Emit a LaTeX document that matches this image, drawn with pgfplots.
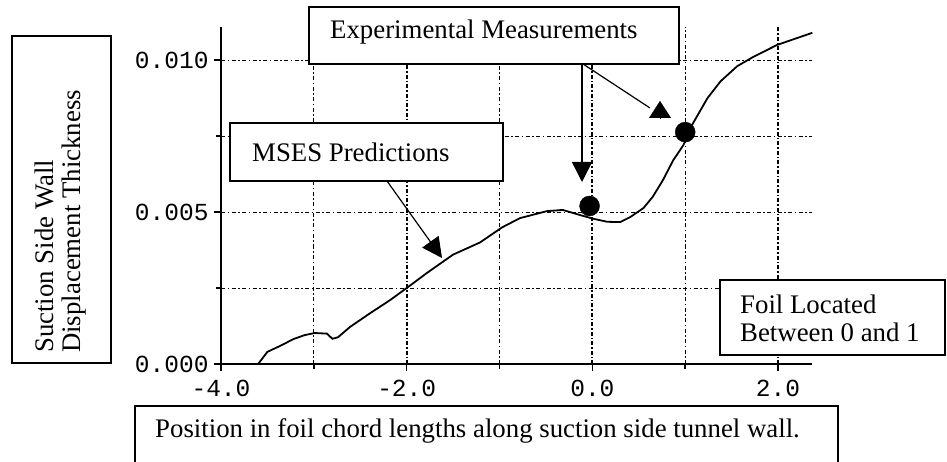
\documentclass[border=0pt]{standalone}
\usepackage{fontspec}
\setmainfont{Liberation Serif}
\setmonofont{Liberation Mono}
\usepackage{pgfplots}
\pgfplotsset{compat=1.18}
\usetikzlibrary{arrows.meta}

\newcommand{\lbl}{\fontsize{26.8}{27}\selectfont}

\begin{document}
\begin{tikzpicture}
\useasboundingbox (0pt,0pt) rectangle (947pt,461pt);
\begin{axis}[
  at={(221pt,97pt)}, anchor=south west,
  scale only axis, width=591pt, height=337pt,
  xmin=-4, xmax=2.366, ymin=0, ymax=0.01109,
  axis x line=bottom, axis y line=left,
  axis line style={line width=1.8pt, -},
  xtick={-4,-2,0,2}, xticklabels={-4.0,-2.0,0.0,2.0},
  minor xtick={-3,-1,1},
  ytick={0,0.005,0.01}, yticklabels={0.000,0.005,0.010},
  minor ytick={0.0025,0.005,0.0075,0.01},
  xmajorgrids, xminorgrids, yminorgrids,
  major grid style={black, line width=2pt, dash pattern=on 4pt off 2pt on 1.5pt off 2pt},
  minor grid style={black, line width=1pt, dash pattern=on 4pt off 2.5pt on 1.5pt off 2.5pt},
  tick align=outside,
  major tick length=7pt, minor tick length=5pt,
  tick style={black, line width=1.6pt},
  ticklabel style={font=\ttfamily\fontsize{24.5}{24}\selectfont},
  xticklabel style={yshift=-6pt},
  yticklabel style={xshift=-2pt},
  scaled y ticks=false,
  clip=false,
]
\addplot[black, line width=1.8pt] coordinates {
(-3.60,0.0000) (-3.50,0.0004) (-3.36,0.0006) (-3.22,0.00082) (-3.10,0.00095)
(-2.99,0.00102) (-2.86,0.00100) (-2.80,0.00083) (-2.74,0.00088) (-2.61,0.00122)
(-2.39,0.00168) (-2.18,0.0021) (-2.00,0.0025) (-1.78,0.0030) (-1.50,0.0036)
(-1.21,0.0040) (-0.97,0.0045) (-0.78,0.0048) (-0.49,0.00503) (-0.32,0.00507)
(-0.13,0.0049) (0.01,0.00478) (0.16,0.00468) (0.30,0.00467) (0.41,0.00484)
(0.55,0.00513) (0.65,0.0055) (0.76,0.00605) (0.87,0.0067) (0.98,0.0072)
(1.08,0.0079) (1.24,0.00875) (1.38,0.0093) (1.56,0.0098) (1.73,0.0101)
(1.99,0.0105) (2.37,0.0109)
};
\addplot[only marks, mark=*, mark size=10pt, black] coordinates {(-0.03,0.0052) (1.0,0.00763)};
\end{axis}

% Boxes
\draw[line width=1.2pt, fill=white] (309pt,397pt) rectangle (679pt,454pt);
\node[anchor=west, inner sep=0pt, font=\lbl] at (330pt,429pt) {Experimental Measurements};

\draw[line width=1.2pt, fill=white] (230pt,280pt) rectangle (503pt,338pt);
\node[anchor=west, inner sep=0pt, font=\lbl] at (252pt,309pt) {MSES Predictions};

\draw[line width=1.2pt, fill=white] (720pt,106pt) rectangle (945pt,181pt);
\node[anchor=west, inner sep=0pt, align=left, font=\fontsize{26.8}{28}\selectfont] at (740pt,143pt) {Foil Located\\Between 0 and 1};

\draw[line width=1.2pt, fill=white] (135pt,-10pt) rectangle (838pt,55pt);
\node[anchor=west, inner sep=0pt, font=\lbl] at (155pt,30pt) {Position in foil chord lengths along suction side tunnel wall.};

\draw[line width=1.2pt, fill=white] (12pt,98pt) rectangle (111pt,425pt);
\node[rotate=90, anchor=west, inner sep=0pt, align=left, font=\lbl] at (61pt,108pt) {Suction Side Wall\\Displacement Thickness};

% Arrows
\draw[line width=1.2pt, -{Triangle[length=20pt,width=20pt]}] (387pt,280pt) -- (442pt,203pt);
\draw[line width=1.5pt, -{Triangle[length=20pt,width=20pt]}] (582pt,398pt) -- (582pt,279pt);
\draw[line width=1.2pt] (583pt,397pt) -- (650pt,353pt);
\draw[line width=0.1pt, -{Triangle[length=17pt,width=22pt]}] (660pt,343pt) -- (660pt,360pt);
\end{tikzpicture}
\end{document}
